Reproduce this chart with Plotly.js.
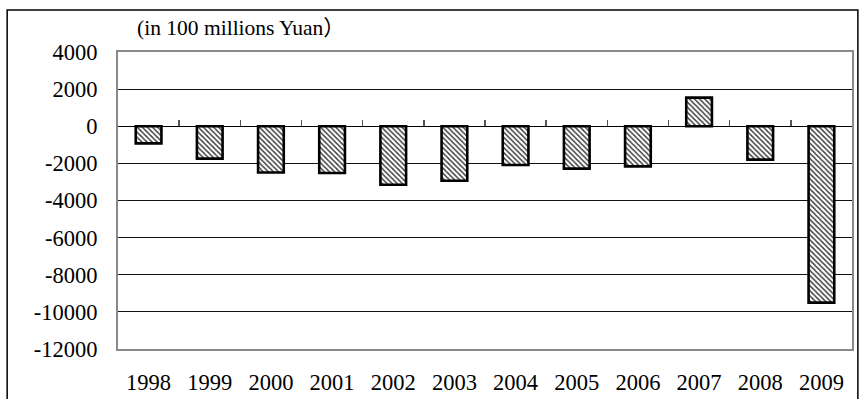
<!DOCTYPE html>
<html>
<head>
<meta charset="utf-8">
<script src="https://cdn.plot.ly/plotly-3.0.1.min.js"></script>
<style>
  html, body { margin: 0; padding: 0; background: #fff; }
  #chart { width: 859px; height: 399px; }
</style>
</head>
<body>
<div id="chart"></div>
<script>
// Fiscal balance by year, in 100 millions Yuan
const years = ['1998', '1999', '2000', '2001', '2002', '2003', '2004', '2005', '2006', '2007', '2008', '2009'];
const balance = [-922, -1744, -2491, -2517, -3150, -2935, -2090, -2281, -2163, 1540, -1800, -9500];
const yTickValues = [4000, 2000, 0, -2000, -4000, -6000, -8000, -10000, -12000];
const yTickLabels = ['4000', '2000', '0', '-2000', '-4000', '-6000', '-8000', '-10000', '-12000'];
const unitLabel = '(in 100 millions Yuan\uFF09';

const serif = 'Liberation Serif, Times New Roman, Noto Sans CJK SC, serif';

const yMin = Math.min.apply(null, yTickValues);
const yMax = Math.max.apply(null, yTickValues);

const bars = {
  type: 'bar',
  x: years,
  y: balance,
  xaxis: 'x',
  yaxis: 'y',
  width: 0.42,
  marker: {
    color: '#ffffff',
    line: { color: '#000000', width: 2.6 },
    pattern: { shape: '\\', fgcolor: '#3a3a3a', bgcolor: '#ffffff', size: 3.6, solidity: 0.38 }
  },
  hoverinfo: 'x+y',
  showlegend: false
};

// carries the category boundary ticks along the zero line
const zeroAxisCarrier = {
  type: 'scatter',
  mode: 'none',
  x: years,
  y: balance,
  xaxis: 'x2',
  yaxis: 'y',
  hoverinfo: 'skip',
  showlegend: false
};

// position of the zero line as a fraction of the plot height
const zeroPos = (0 - yMin) / (yMax - yMin);

const layout = {
  width: 859,
  height: 399,
  margin: { l: 118, r: 7, t: 52, b: 50 },
  paper_bgcolor: '#ffffff',
  plot_bgcolor: '#ffffff',
  font: { family: serif, size: 22.5, color: '#000000' },
  title: {
    text: unitLabel,
    font: { family: serif, size: 21.5, color: '#000000' },
    xref: 'paper',
    x: 0.026,
    xanchor: 'left',
    yref: 'container',
    y: 0.93,
    yanchor: 'middle'
  },
  xaxis: {
    type: 'category',
    categoryorder: 'array',
    categoryarray: years,
    range: [-0.5, years.length - 0.5],
    showgrid: false,
    zeroline: false,
    showline: true,
    linecolor: '#8a8a8a',
    linewidth: 2,
    mirror: true,
    ticks: '',
    ticklabelstandoff: 12,
    tickfont: { family: serif, size: 22.5, color: '#000000' },
    fixedrange: true
  },
  xaxis2: {
    type: 'category',
    categoryorder: 'array',
    categoryarray: years,
    overlaying: 'x',
    anchor: 'free',
    position: zeroPos,
    range: [-0.5, years.length - 0.5],
    showgrid: false,
    zeroline: false,
    showline: false,
    tickson: 'boundaries',
    ticks: 'inside',
    ticklen: 6,
    tickwidth: 1.5,
    tickcolor: '#555555',
    showticklabels: false,
    fixedrange: true
  },
  yaxis: {
    range: [yMin, yMax],
    tickmode: 'array',
    tickvals: yTickValues,
    ticktext: yTickLabels,
    showgrid: true,
    gridcolor: '#111111',
    gridwidth: 1,
    zeroline: true,
    zerolinecolor: '#000000',
    zerolinewidth: 1.2,
    showline: true,
    linecolor: '#8a8a8a',
    linewidth: 2,
    mirror: true,
    ticks: '',
    ticklabelstandoff: 14,
    tickfont: { family: serif, size: 22.5, color: '#000000' },
    fixedrange: true
  },
  shapes: [
    {
      // outer chart frame
      type: 'rect',
      xref: 'paper',
      yref: 'paper',
      x0: -0.151,
      x1: 1.008,
      y0: -0.4,
      y1: 1.141,
      line: { color: '#000000', width: 1.5 },
      fillcolor: 'rgba(0,0,0,0)',
      layer: 'below'
    }
  ]
};

Plotly.newPlot('chart', [bars, zeroAxisCarrier], layout, { displayModeBar: false, staticPlot: true });
</script>
</body>
</html>
